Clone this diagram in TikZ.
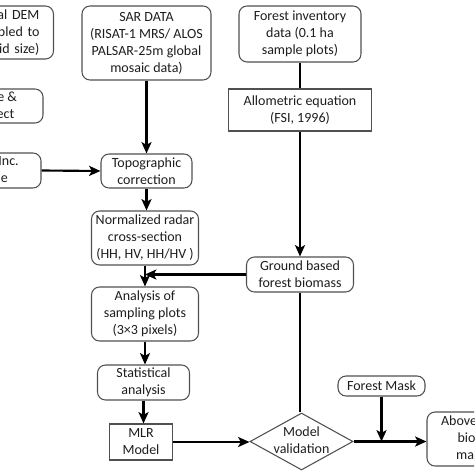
\documentclass[tikz,border=0pt]{standalone}
\usepackage{fontspec}
\setmainfont{Carlito}
\usepackage{xcolor}
\usepackage{tikz}
\usetikzlibrary{arrows.meta}
\usetikzlibrary{shapes.geometric}

\definecolor{boxgray}{HTML}{505050}
\definecolor{textdark}{HTML}{1E1E1E}

\tikzset{
    box/.style={draw=boxgray, line width=0.8pt, rounded corners=6pt, align=center,
        inner sep=0pt, text=textdark},
    sqbox/.style={draw=boxgray, line width=0.8pt, align=center, inner sep=0pt, text=textdark},
    flow/.style={line width=1.6pt, -{Stealth[length=8.5pt, width=7.5pt, inset=2pt]}},
    link/.style={line width=1.6pt},
}

\begin{document}
\begin{tikzpicture}[x=0.75pt, y=-0.75pt, font=\fontsize{10.5pt}{12.75pt}\selectfont]
    \fill[white] (0,0) rectangle (474,474);
    \useasboundingbox (0,0) rectangle (474,474);
    \clip (0,0) rectangle (474,474);

    % left column (cut at the edge)
    \node[box, anchor=east, text width=62pt, align=right, inner xsep=10.5pt,
        minimum height=39.75pt] (dem) at (54,32.5) {Digital DEM\\(resampled to\\grid size)};
    \node[box, minimum width=72pt, minimum height=25.5pt] (slope) at (-5,106) {Slope \&\\Aspect};
    \node[box, minimum width=72.75pt, minimum height=26.25pt] (inc) at (-7.5,170.5) {Local Inc.\\angle};

    % SAR branch
    \node[box, minimum width=96.75pt, minimum height=55.5pt] (sar) at (146.5,43)
        {SAR DATA\\(RISAT-1 MRS/ ALOS\\PALSAR-25m global\\mosaic data)};
    \node[box, minimum width=68.25pt, minimum height=25.5pt] (topo) at (146.5,171) {Topographic\\correction};
    \node[box, minimum width=80.25pt, minimum height=40.5pt] (ncs) at (145,238)
        {Normalized radar\\cross-section\\(HH, HV, HH/HV )};
    \node[box, minimum width=80.25pt, minimum height=40.5pt] (asp) at (145,314)
        {Analysis of\\sampling plots\\(3×3 pixels)};
    \node[box, minimum width=69pt, minimum height=26.25pt] (stat) at (143.5,382.5) {Statistical\\analysis};
    \node[sqbox, minimum width=47.25pt, minimum height=27pt] (mlr) at (141,442) {MLR\\Model};

    % field branch
    \node[box, minimum width=91.5pt, minimum height=42pt] (fid) at (300,34)
        {Forest inventory\\data (0.1 ha\\sample plots)};
    \node[sqbox, minimum width=107.25pt, minimum height=31.5pt] (allo) at (300,110)
        {Allometric equation\\(FSI, 1996)};
    \node[box, minimum width=80.25pt, minimum height=26.25pt] (gfb) at (300,274.5)
        {Ground based\\forest biomass};

    % validation and output
    \node[diamond, draw=boxgray, line width=0.8pt, inner sep=0pt, aspect=1.8,
        minimum width=77.25pt, minimum height=42.75pt] (val) at (301.5,441.5) {};
    \node[align=center, inner sep=0pt, text=textdark] (valtxt) at (301.5,440.5) {Model\\validation};
    \node[box, minimum width=65.25pt, minimum height=15pt] (mask) at (381.5,386) {Forest Mask};
    \node[box, minimum width=81pt, minimum height=40.5pt] (agb) at (481,439)
        {Above ground\\biomass\\mapping};

    \draw[flow] (inc.east) -- (topo.west);
    \draw[flow] (sar.south) -- (topo.north);
    \draw[flow] (topo.south) -- (topo.south |- ncs.north);
    \draw[flow] (ncs.south) -- (asp.north);
    \draw[flow] (asp.south) -- (asp.south |- stat.north);
    \draw[flow] (stat.south) -- (stat.south |- mlr.north);
    \draw[flow] (gfb.west) -- (gfb.west -| ncs.south);
    \draw[link] (fid.south) -- (allo.north);
    \draw[flow] (allo.south) -- (gfb.north);
    \draw[link] (gfb.south) -- (gfb.south |- val.north);
    \draw[flow] (mlr.east) -- (mlr.east -| val.west);
    \draw[flow] (val.east) -- (val.east -| agb.west);
    \draw[flow] (mask.south) -- (mask.south |- val.east);
\end{tikzpicture}
\end{document}
